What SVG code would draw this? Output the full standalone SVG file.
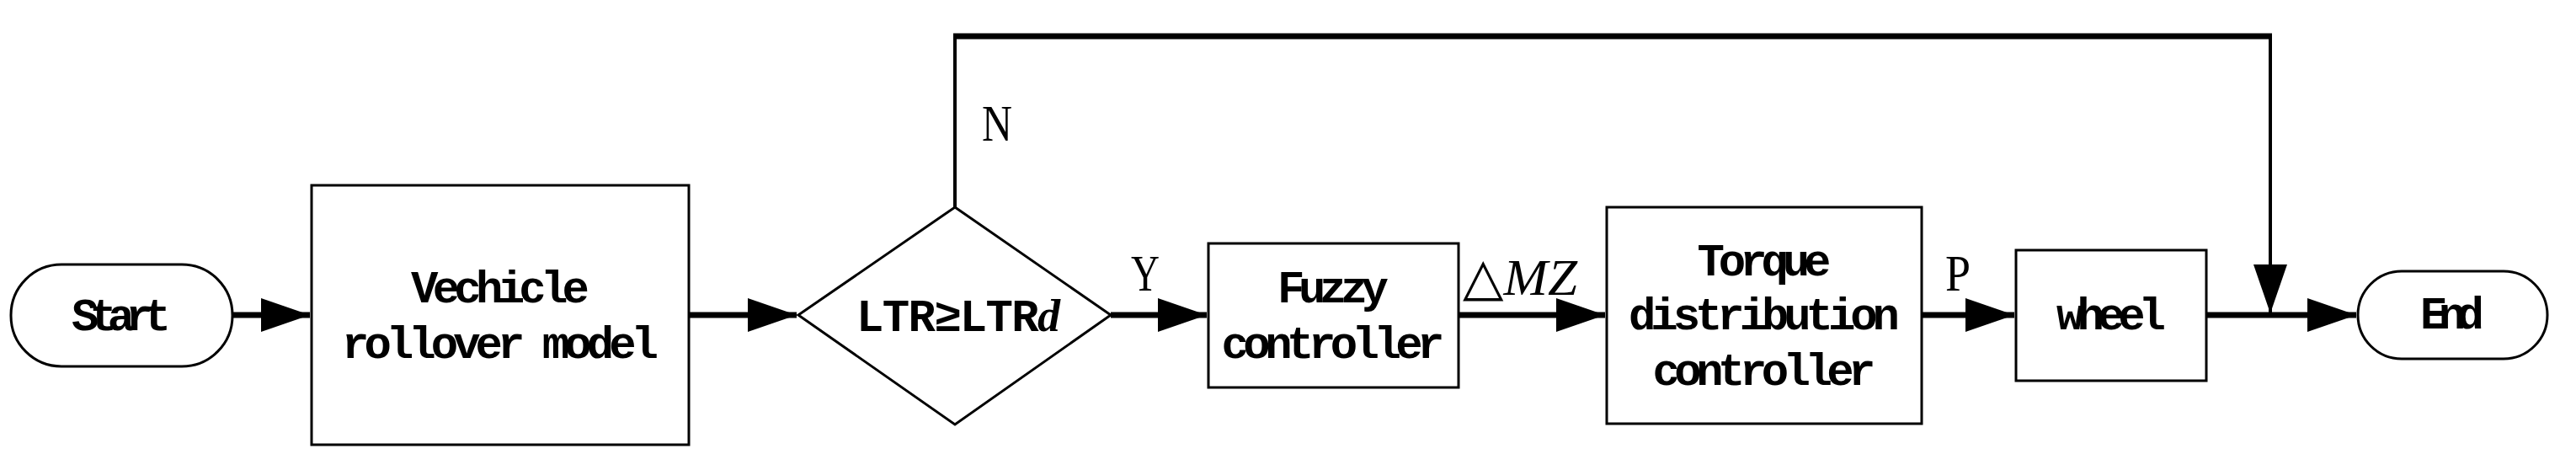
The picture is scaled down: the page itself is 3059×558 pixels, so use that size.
<svg xmlns="http://www.w3.org/2000/svg" width="3059" height="558" viewBox="0 0 3059 558">
<style>
.b{fill:#fff;stroke:#000;stroke-width:3}
.t{font-family:"Liberation Mono",monospace;font-size:54px;font-weight:bold;text-anchor:middle;lengthAdjust:spacingAndGlyphs}
.l{font-family:"Liberation Serif",serif;font-size:62px}
.c{fill:none;stroke:#000;stroke-width:7}
.v{fill:none;stroke:#000;stroke-width:4}
</style>
<defs>
<marker id="a" markerUnits="userSpaceOnUse" markerWidth="60" markerHeight="60" refX="58" refY="20" orient="auto"><path d="M0,0L58,20L0,40Z" fill="#000"/></marker>
</defs>
<g id="connectors">
<path class="c" d="M276,374H368" marker-end="url(#a)"/>
<path class="c" d="M818,374H946" marker-end="url(#a)"/>
<path class="c" d="M1319,374H1433" marker-end="url(#a)"/>
<path class="c" d="M1732,374H1906" marker-end="url(#a)"/>
<path class="c" d="M2282,374H2392" marker-end="url(#a)"/>
<path class="c" d="M2620,374H2798" marker-end="url(#a)"/>
<path class="v" d="M1134,246V43"/>
<path class="c" d="M1132,43H2698"/>
<path class="v" d="M2696,43V372" marker-end="url(#a)"/>
</g>
<g id="start"><rect class="b" x="13" y="314" width="263" height="121" rx="60" ry="60"/><text class="t" x="144" y="392" textLength="118">Start</text></g>
<g id="vehicle"><rect class="b" x="370" y="220" width="448" height="308"/><text class="t" x="594" y="359" textLength="212">Vechicle</text><text class="t" x="594" y="425" textLength="376">rollover model</text></g>
<g id="decision"><path class="b" d="M1134,246L1319,374L1134,504L948,374Z"/><text class="t" x="1138" y="393" textLength="242">LTR≥LTR<tspan font-family="Liberation Serif" font-style="italic">d</tspan></text></g>
<g id="fuzzy"><rect class="b" x="1435" y="289" width="297" height="171"/><text class="t" x="1583" y="359" textLength="132">Fuzzy</text><text class="t" x="1583" y="425" textLength="265">controller</text></g>
<g id="torque"><rect class="b" x="1908" y="246" width="374" height="257"/><text class="t" x="2095" y="327" textLength="159">Torque</text><text class="t" x="2095" y="391" textLength="322">distribution</text><text class="t" x="2095" y="457" textLength="265">controller</text></g>
<g id="wheel"><rect class="b" x="2394" y="297" width="226" height="155"/><text class="t" x="2507" y="391" textLength="130">wheel</text></g>
<g id="end"><rect class="b" x="2800" y="322" width="225" height="104" rx="52" ry="52"/><text class="t" x="2912" y="390" textLength="76">End</text></g>
<g id="labels">
<text class="l" x="1166" y="167" textLength="36" lengthAdjust="spacingAndGlyphs">N</text>
<text class="l" x="1343" y="345" textLength="34" lengthAdjust="spacingAndGlyphs">Y</text>
<text class="l" x="2310" y="345" textLength="30" lengthAdjust="spacingAndGlyphs">P</text>
<text class="l" x="1737" y="350" textLength="136" lengthAdjust="spacingAndGlyphs"><tspan font-family="DejaVu Sans">△</tspan><tspan font-style="italic">MZ</tspan></text>
</g>
</svg>
